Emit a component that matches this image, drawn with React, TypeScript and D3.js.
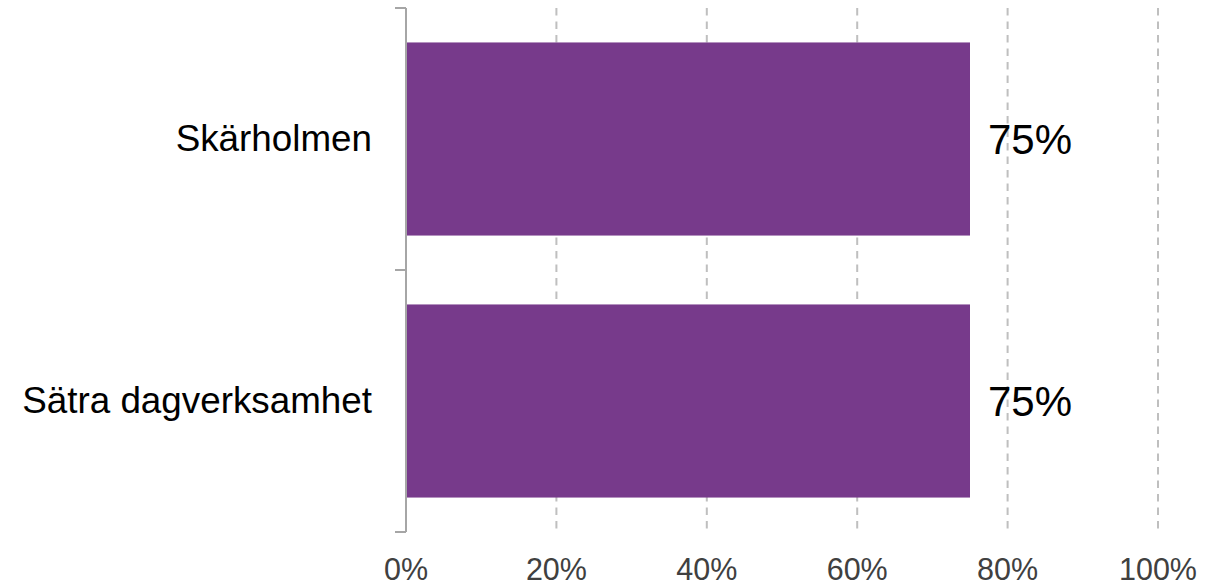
import React from "react";
import * as d3 from "d3";

const categories = ["Skärholmen", "Sätra dagverksamhet"];
const values = [0.75, 0.75];
const valueLabels = ["75%", "75%"];
const xTicks = [0, 0.2, 0.4, 0.6, 0.8, 1.0];

const W = 1219;
const H = 588;
const left = 406;
const right = 1158;
const top = 8;
const bottom = 532;

export default function App() {
  const x = d3.scaleLinear().domain([0, 1]).range([left, right]);
  const y = d3.scaleBand<string>().domain(categories).range([top, bottom]).padding(0);
  const barH = y.bandwidth() * 0.737;
  const fmt = d3.format(".0%");
  return (
    <svg width={W} height={H} style={{ position: "absolute", left: 0, top: 0, fontFamily: "Liberation Sans, Arial, sans-serif" }}>
      {xTicks.slice(1).map((t) => (
        <line key={t} x1={x(t)} x2={x(t)} y1={top} y2={bottom} stroke="#bfbfbf" strokeWidth={2} strokeDasharray="7.5,6" />
      ))}
      {categories.map((c, i) => {
        const yc = (y(c) as number) + y.bandwidth() / 2;
        return (
          <g key={c}>
            <rect x={x(0)} y={yc - barH / 2} width={x(values[i]) - x(0)} height={barH} fill="#773a8b" />
            <text x={x(values[i]) + 18} y={yc + 14.5} fontSize={42} fill="#000">{valueLabels[i]}</text>
            <text x={372} y={yc + 12} fontSize={36.8} textAnchor="end" fill="#000">{c}</text>
          </g>
        );
      })}
      <line x1={left} x2={left} y1={top} y2={bottom} stroke="#a6a6a6" strokeWidth={2} />
      {[top, ...categories.map((c) => (y(c) as number) + y.bandwidth())].map((v, i) => (
        <line key={i} x1={395} x2={left} y1={v} y2={v} stroke="#a6a6a6" strokeWidth={2} />
      ))}
      {xTicks.map((t) => (
        <text key={t} x={x(t)} y={580} fontSize={30.5} textAnchor="middle" fill="#404040">{fmt(t)}</text>
      ))}
    </svg>
  );
}
